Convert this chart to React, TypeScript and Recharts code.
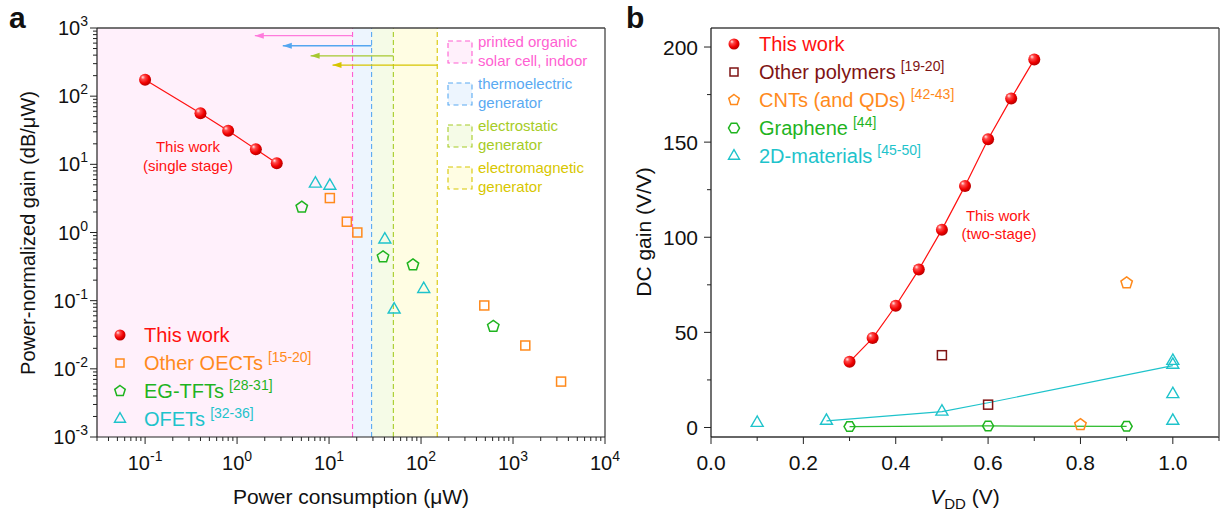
import React from 'react';
import { ComposedChart, Scatter, XAxis, YAxis, ReferenceArea, ReferenceLine } from 'recharts';

const FONT = "'Liberation Sans', Arial, Helvetica, sans-serif";

// ---------- Panel a data ----------
const thisWorkA = [
  { x: 0.1, y: 174 }, { x: 0.4, y: 56 }, { x: 0.8, y: 31 }, { x: 1.6, y: 16.6 }, { x: 2.7, y: 10.4 },
];
const oectsA = [
  { x: 10.2, y: 3.2 }, { x: 15.6, y: 1.44 }, { x: 20.3, y: 1.0 }, { x: 487, y: 0.085 }, { x: 1360, y: 0.022 }, { x: 3330, y: 0.0065 },
];
const egtftsA = [
  { x: 5.05, y: 2.35 }, { x: 38.6, y: 0.44 }, { x: 81.7, y: 0.335 }, { x: 610, y: 0.042 },
];
const ofetsA = [
  { x: 7.1, y: 5.2 }, { x: 10.2, y: 4.85 }, { x: 40.4, y: 0.79 }, { x: 51, y: 0.074 }, { x: 107, y: 0.148 },
];
const harvesterNames = [
  ['printed organic', 'solar cell, indoor'],
  ['thermoelectric', 'generator'],
  ['electrostatic', 'generator'],
  ['electromagnetic', 'generator'],
];
const harvesterLimits = [18, 29, 50, 150];
const arrowTips = [1.56, 3.14, 6.3, 10.9];
const arrowLevels = [771, 549, 391, 286];
const xTicksA = [0.03, 0.04, 0.05, 0.06, 0.07, 0.08, 0.09,
  0.1, 0.2, 0.3, 0.4, 0.5, 0.6, 0.7, 0.8, 0.9,
  1, 2, 3, 4, 5, 6, 7, 8, 9,
  10, 20, 30, 40, 50, 60, 70, 80, 90,
  100, 200, 300, 400, 500, 600, 700, 800, 900,
  1000, 2000, 3000, 4000, 5000, 6000, 7000, 8000, 9000, 10000];
const yTicksA = [0.001, 0.002, 0.003, 0.004, 0.005, 0.006, 0.007, 0.008, 0.009,
  0.01, 0.02, 0.03, 0.04, 0.05, 0.06, 0.07, 0.08, 0.09,
  0.1, 0.2, 0.3, 0.4, 0.5, 0.6, 0.7, 0.8, 0.9,
  1, 2, 3, 4, 5, 6, 7, 8, 9,
  10, 20, 30, 40, 50, 60, 70, 80, 90,
  100, 200, 300, 400, 500, 600, 700, 800, 900, 1000];

// ---------- Panel b data ----------
const vddThisWork = [0.3, 0.35, 0.4, 0.45, 0.5, 0.55, 0.6, 0.65, 0.7];
const gainThisWork = [34.5, 47, 64, 83, 104, 127, 151.5, 173, 193.5];
const polymersB = [{ x: 0.5, y: 38 }, { x: 0.6, y: 12 }];
const cntsB = [{ x: 0.8, y: 1.5 }, { x: 0.9, y: 76 }];
const grapheneB = [{ x: 0.3, y: 0.5 }, { x: 0.6, y: 0.8 }, { x: 0.9, y: 0.6 }];
const twoDB = [
  { x: 0.1, y: 2.4 }, { x: 0.25, y: 3.5 }, { x: 0.5, y: 8.3 },
  { x: 1.0, y: 35 }, { x: 1.0, y: 33 }, { x: 1.0, y: 17.5 }, { x: 1.0, y: 3.5 },
];
const twoDFitB = [{ x: 0.25, y: 3.5 }, { x: 0.5, y: 8.3 }, { x: 0.6, y: 13 }, { x: 1.0, y: 32.5 }];
const xTicksB = [0, 0.1, 0.2, 0.3, 0.4, 0.5, 0.6, 0.7, 0.8, 0.9, 1.0, 1.1];
const yTicksB = [0, 25, 50, 75, 100, 125, 150, 175, 200];

const thisWorkB = vddThisWork.map((x, i) => ({ x, y: gainThisWork[i] }));

// ---------- colours ----------
const RED = '#ff1010';
const ORANGE = '#ff8a1c';
const GREEN = '#1fb41f';
const CYAN = '#1ec3cb';
const DARKRED = '#7f1414';
const H_LINE = ['#ff5fd2', '#5aaaf2', '#a6cc26', '#d8c700'];
const H_FILL = ['#fff0fb', '#edf5fe', '#f5fbe7', '#fffde3'];
const H_ARROW = ['#ff7adc', '#55a6f0', '#a6c830', '#d6c400'];

// ---------- marker shapes ----------
const Ball = ({ cx, cy, r = 6 }: any) => <circle cx={cx} cy={cy} r={r} fill="url(#ballGrad)" />;
const Square = ({ cx, cy, color, s = 9 }: any) => (
  <rect x={cx - s / 2} y={cy - s / 2} width={s} height={s} fill="none" stroke={color} strokeWidth={1.5} />
);
const poly = (cx: number, cy: number, r: number, n: number, start: number) => {
  const pts: string[] = [];
  for (let i = 0; i < n; i++) {
    const a = start + (i * 2 * Math.PI) / n;
    pts.push(`${cx + r * Math.cos(a)},${cy + r * Math.sin(a)}`);
  }
  return pts.join(' ');
};
const Pentagon = ({ cx, cy, color, r = 6 }: any) => (
  <polygon points={poly(cx, cy, r, 5, -Math.PI / 2)} fill="none" stroke={color} strokeWidth={1.5} />
);
const Hexagon = ({ cx, cy, color, r = 5.5 }: any) => (
  <polygon points={poly(cx, cy, r, 6, 0)} fill="none" stroke={color} strokeWidth={1.5} />
);
const Triangle = ({ cx, cy, color, s = 12 }: any) => {
  const h = (s * Math.sqrt(3)) / 2;
  return (
    <polygon
      points={`${cx},${cy - (2 * h) / 3} ${cx - s / 2},${cy + h / 3} ${cx + s / 2},${cy + h / 3}`}
      fill="none" stroke={color} strokeWidth={1.4}
    />
  );
};

// ---------- ticks ----------
const isDecade = (v: number) => {
  const l = Math.log10(v);
  return Math.abs(l - Math.round(l)) < 1e-6;
};
const LogXTick = (p: any) => {
  const { x, y, payload } = p;
  const v = payload.value;
  const maj = isDecade(v);
  return (
    <g>
      <line x1={x} x2={x} y1={y} y2={y + (maj ? 7 : 4)} stroke="#222" strokeWidth={1} />
      {maj && (
        <text x={x} y={y + 33} textAnchor="middle" fontSize={20} fill="#111" fontFamily={FONT}>
          10<tspan dy={-9} fontSize={14}>{Math.round(Math.log10(v))}</tspan>
        </text>
      )}
    </g>
  );
};
const LogYTick = (p: any) => {
  const { x, y, payload } = p;
  const v = payload.value;
  const maj = isDecade(v);
  return (
    <g>
      <line x1={x} x2={x - (maj ? 7 : 4)} y1={y} y2={y} stroke="#222" strokeWidth={1} />
      {maj && (
        <text x={x - 9} y={y + 7} textAnchor="end" fontSize={20} fill="#111" fontFamily={FONT}>
          10<tspan dy={-9} fontSize={14}>{Math.round(Math.log10(v))}</tspan>
        </text>
      )}
    </g>
  );
};
const LinXTick = (p: any) => {
  const { x, y, payload } = p;
  const v = payload.value;
  const maj = Math.round(v * 10) % 2 === 0;
  return (
    <g>
      <line x1={x} x2={x} y1={y} y2={y + (maj ? 7 : 4)} stroke="#222" strokeWidth={1} />
      {maj && v <= 1.0001 && (
        <text x={x} y={y + 33} textAnchor="middle" fontSize={21} fill="#111" fontFamily={FONT}>
          {v.toFixed(1)}
        </text>
      )}
    </g>
  );
};
const LinYTick = (p: any) => {
  const { x, y, payload } = p;
  const v = payload.value;
  const maj = v % 50 === 0;
  return (
    <g>
      <line x1={x} x2={x - (maj ? 7 : 4)} y1={y} y2={y} stroke="#222" strokeWidth={1} />
      {maj && (
        <text x={x - 13} y={y + 7.5} textAnchor="end" fontSize={21} fill="#111" fontFamily={FONT}>
          {v}
        </text>
      )}
    </g>
  );
};

const arrowData = harvesterLimits.map((lim, i) => [
  { x: lim, y: arrowLevels[i], head: false },
  { x: arrowTips[i], y: arrowLevels[i], head: true },
]);

const ArrowHead = (color: string) => (p: any) => {
  const { cx, cy, payload } = p;
  if (!payload || !payload.head) return <g />;
  return <polygon points={`${cx},${cy} ${cx + 9},${cy - 3} ${cx + 9},${cy + 3}`} fill={color} />;
};

const LegendSup = ({ x, y, color, main, sup }: any) => (
  <text x={x} y={y} fontSize={20} fill={color} fontFamily={FONT}>
    {main}
    {sup && <tspan dx={5} dy={-8} fontSize={14}>{sup}</tspan>}
  </text>
);

export default function App() {
  return (
    <div style={{ position: 'absolute', left: 0, top: 0, width: 1221, height: 518, background: '#fff', fontFamily: FONT, overflow: 'hidden' }}>
      <svg width={0} height={0} style={{ position: 'absolute' }}>
        <defs>
          <radialGradient id="ballGrad" cx="40%" cy="38%" r="62%" fx="30%" fy="28%">
            <stop offset="0%" stopColor="#ffe8e8" />
            <stop offset="28%" stopColor="#ff4a4a" />
            <stop offset="70%" stopColor="#f00000" />
            <stop offset="100%" stopColor="#b80000" />
          </radialGradient>
        </defs>
      </svg>

      {/* Panel a */}
      <div style={{ position: 'absolute', left: 0, top: 0 }}>
        <ComposedChart width={620} height={518} margin={{ top: 28, right: 15, bottom: 80, left: 96 }}>
          <XAxis dataKey="x" type="number" scale="log" domain={[0.03, 10000]} ticks={xTicksA} interval={0}
            allowDataOverflow height={1} tickSize={0} tickMargin={0} tickLine={false}
            axisLine={{ stroke: '#222', strokeWidth: 1.2 }} tick={<LogXTick />} />
          <YAxis dataKey="y" type="number" scale="log" domain={[0.001, 1000]} ticks={yTicksA} interval={0}
            allowDataOverflow width={1} tickSize={0} tickMargin={0} tickLine={false}
            axisLine={{ stroke: '#222', strokeWidth: 1.2 }} tick={<LogYTick />} />
          {[3, 2, 1, 0].map((i) => (
            <ReferenceArea key={'ra' + i} x1={0.03} x2={harvesterLimits[i]} y1={0.001} y2={1000}
              fill={H_FILL[i]} fillOpacity={1} stroke="none" ifOverflow="visible" />
          ))}
          {harvesterLimits.map((lim, i) => (
            <ReferenceLine key={'rl' + i} x={lim} stroke={H_LINE[i]} strokeWidth={1.1} strokeDasharray="5 3" />
          ))}
          <ReferenceLine y={1000} stroke="#444" strokeWidth={1.3} ifOverflow="visible" />
          <ReferenceLine x={10000} stroke="#444" strokeWidth={1.3} ifOverflow="visible" />
          {arrowData.map((d, i) => (
            <Scatter key={'ar' + i} data={d} isAnimationActive={false}
              line={{ stroke: H_ARROW[i], strokeWidth: 1.3 }} lineType="joint" shape={ArrowHead(H_ARROW[i])} />
          ))}
          <Scatter data={oectsA} isAnimationActive={false} shape={(p: any) => <Square cx={p.cx} cy={p.cy} color={ORANGE} />} />
          <Scatter data={egtftsA} isAnimationActive={false} shape={(p: any) => <Pentagon cx={p.cx} cy={p.cy} color={GREEN} />} />
          <Scatter data={ofetsA} isAnimationActive={false} shape={(p: any) => <Triangle cx={p.cx} cy={p.cy} color={CYAN} />} />
          <Scatter data={thisWorkA} isAnimationActive={false} line={{ stroke: RED, strokeWidth: 1.2 }} lineType="joint"
            shape={(p: any) => <Ball cx={p.cx} cy={p.cy} />} />
        </ComposedChart>
      </div>

      {/* Panel b */}
      <div style={{ position: 'absolute', left: 620, top: 0 }}>
        <ComposedChart width={601} height={518} margin={{ top: 28, right: 2, bottom: 80, left: 90 }}>
          <XAxis dataKey="x" type="number" domain={[0, 1.1]} ticks={xTicksB} interval={0}
            allowDataOverflow height={1} tickSize={0} tickMargin={0} tickLine={false}
            axisLine={{ stroke: '#666', strokeWidth: 1.8 }} tick={<LinXTick />} />
          <YAxis dataKey="y" type="number" domain={[-5, 210]} ticks={yTicksB} interval={0}
            allowDataOverflow width={1} tickSize={0} tickMargin={0} tickLine={false}
            axisLine={{ stroke: '#111', strokeWidth: 1.2 }} tick={<LinYTick />} />
          <ReferenceLine y={210} stroke="#444" strokeWidth={1.3} ifOverflow="visible" />
          <ReferenceLine x={1.1} stroke="#444" strokeWidth={1.3} ifOverflow="visible" />
          <Scatter data={twoDFitB} isAnimationActive={false} line={{ stroke: CYAN, strokeWidth: 1.2 }} lineType="joint"
            shape={() => <g />} />
          <Scatter data={grapheneB} isAnimationActive={false} line={{ stroke: '#2cbb2c', strokeWidth: 1.3 }} lineType="joint"
            shape={(p: any) => <Hexagon cx={p.cx} cy={p.cy} color={GREEN} />} />
          <Scatter data={twoDB} isAnimationActive={false} shape={(p: any) => <Triangle cx={p.cx} cy={p.cy} color={CYAN} />} />
          <Scatter data={polymersB} isAnimationActive={false} shape={(p: any) => <Square cx={p.cx} cy={p.cy} color={DARKRED} s={9} />} />
          <Scatter data={cntsB} isAnimationActive={false} shape={(p: any) => <Pentagon cx={p.cx} cy={p.cy} color={ORANGE} />} />
          <Scatter data={thisWorkB} isAnimationActive={false} line={{ stroke: RED, strokeWidth: 1.2 }} lineType="joint"
            shape={(p: any) => <Ball cx={p.cx} cy={p.cy} />} />
        </ComposedChart>
      </div>

      {/* Text overlay */}
      <svg width={1221} height={518} style={{ position: 'absolute', left: 0, top: 0, pointerEvents: 'none' }} fontFamily={FONT}>
        <text x={9} y={28} fontSize={30} fontWeight="bold" fill="#111">a</text>
        <text x={626} y={28} fontSize={30} fontWeight="bold" fill="#111">b</text>

        {/* axis titles */}
        <text x={28} y={233} fontSize={20} fill="#111" textAnchor="middle" dominantBaseline="central"
          transform="rotate(-90 28 233)">Power-normalized gain (dB/μW)</text>
        <text x={351} y={504} fontSize={21} fill="#111" textAnchor="middle">Power consumption (μW)</text>
        <text x={643} y={232} fontSize={21} fill="#111" textAnchor="middle" dominantBaseline="central"
          transform="rotate(-90 643 232)">DC gain (V/V)</text>
        <text x={965} y={504} fontSize={21} fill="#111" textAnchor="middle">
          <tspan fontStyle="italic">V</tspan>
          <tspan fontSize={15} dy={5}>DD</tspan>
          <tspan dy={-5}> (V)</tspan>
        </text>

        {/* annotations */}
        <text x={188} y={152} fontSize={15} fill={RED} textAnchor="middle">This work</text>
        <text x={188} y={171} fontSize={15} fill={RED} textAnchor="middle">(single stage)</text>
        <text x={998} y={220.5} fontSize={15} fill={RED} textAnchor="middle">This work</text>
        <text x={999} y={239} fontSize={15} fill={RED} textAnchor="middle">(two-stage)</text>

        {/* panel a harvester legend */}
        {harvesterNames.map((lines, i) => {
          const top = 41 + i * 42;
          return (
            <g key={'hl' + i}>
              <rect x={448} y={top} width={24} height={22} fill={H_FILL[i]} stroke={H_LINE[i]} strokeWidth={1.1} strokeDasharray="5 3.5" />
              <text x={478} y={top + 5.5} fontSize={15} fill={H_LINE[i]}>{lines[0]}</text>
              <text x={478} y={top + 24.5} fontSize={15} fill={H_LINE[i]}>{lines[1]}</text>
            </g>
          );
        })}

        {/* panel a legend */}
        <Ball cx={120} cy={335} r={5.5} />
        <LegendSup x={144} y={342} color={RED} main="This work" />
        <Square cx={120} cy={363} color={ORANGE} s={8} />
        <LegendSup x={144} y={370} color={ORANGE} main="Other OECTs" sup="[15-20]" />
        <Pentagon cx={120} cy={391} color={GREEN} r={5.5} />
        <LegendSup x={144} y={398} color={GREEN} main="EG-TFTs" sup="[28-31]" />
        <Triangle cx={120} cy={419} color={CYAN} s={11} />
        <LegendSup x={144} y={426} color={CYAN} main="OFETs" sup="[32-36]" />

        {/* panel b legend */}
        <Ball cx={734} cy={44} r={5.5} />
        <LegendSup x={759} y={51} color={RED} main="This work" />
        <Square cx={734} cy={72} color={DARKRED} s={8} />
        <LegendSup x={759} y={79} color={DARKRED} main="Other polymers" sup="[19-20]" />
        <Pentagon cx={734} cy={100} color={ORANGE} r={5.5} />
        <LegendSup x={759} y={107} color={ORANGE} main="CNTs (and QDs)" sup="[42-43]" />
        <Hexagon cx={734} cy={128} color={GREEN} r={5.5} />
        <LegendSup x={759} y={135} color={GREEN} main="Graphene" sup="[44]" />
        <Triangle cx={734} cy={156} color={CYAN} s={11} />
        <LegendSup x={759} y={163} color={CYAN} main="2D-materials" sup="[45-50]" />
      </svg>
    </div>
  );
}
